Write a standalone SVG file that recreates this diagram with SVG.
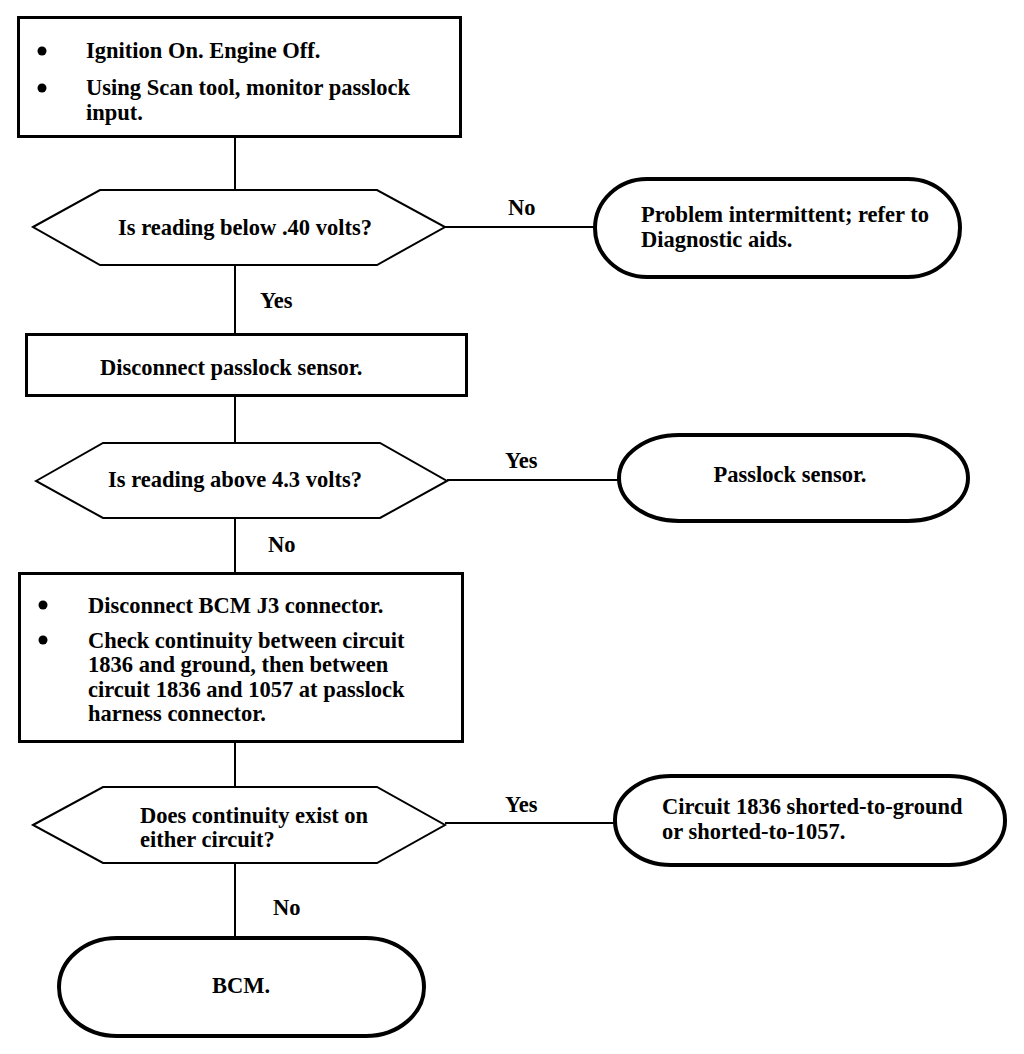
<svg xmlns="http://www.w3.org/2000/svg" width="1024" height="1054" viewBox="0 0 1024 1054">
<style>
.box{fill:#fff;stroke:#000;stroke-width:3}
.dec{fill:#fff;stroke:#000;stroke-width:2}
.term{fill:#fff;stroke:#000;stroke-width:4}
.conn{stroke:#000;stroke-width:2;fill:none}
text{font-family:"Liberation Serif","Times New Roman",serif;font-weight:bold;font-size:22.5px;fill:#000}
.bul{fill:#000}
</style>
<rect width="1024" height="1054" fill="#fff"/>
<g id="connectors">
<line class="conn" x1="235" y1="138" x2="235" y2="190"/>
<line class="conn" x1="235" y1="265" x2="235" y2="333"/>
<line class="conn" x1="235" y1="397" x2="235" y2="443"/>
<line class="conn" x1="235" y1="518" x2="235" y2="572"/>
<line class="conn" x1="235" y1="743" x2="235" y2="787"/>
<line class="conn" x1="235" y1="863" x2="235" y2="936"/>
<line class="conn" x1="445" y1="227" x2="594" y2="227"/>
<line class="conn" x1="447" y1="480" x2="618" y2="480"/>
<line class="conn" x1="445" y1="823" x2="614" y2="823"/>
<text x="508" y="215">No</text>
<text x="260" y="308">Yes</text>
<text x="505" y="468">Yes</text>
<text x="268" y="552">No</text>
<text x="505" y="812">Yes</text>
<text x="273" y="915">No</text>
</g>
<g id="step1">
<rect class="box" x="18.5" y="17.5" width="442" height="119"/>
<circle class="bul" cx="42" cy="51" r="4.5"/>
<circle class="bul" cx="42" cy="88" r="4.5"/>
<text x="86" y="58">Ignition On. Engine Off.</text>
<text x="86" y="95">Using Scan tool, monitor passlock</text>
<text x="86" y="120">input.</text>
</g>
<g id="decision1">
<polygon class="dec" points="33,227 100,190 377,190 445,227 377,265 100,265"/>
<text x="118" y="235">Is reading below .40 volts?</text>
</g>
<g id="result1">
<rect class="term" x="595" y="179" width="365" height="98" rx="52" ry="49"/>
<text x="641" y="222">Problem intermittent; refer to</text>
<text x="641" y="247">Diagnostic aids.</text>
</g>
<g id="step2">
<rect class="box" x="26.5" y="334.5" width="440" height="61"/>
<text x="100" y="375">Disconnect passlock sensor.</text>
</g>
<g id="decision2">
<polygon class="dec" points="36,481 103,443 380,443 447,481 380,518 103,518"/>
<text x="108" y="487">Is reading above 4.3 volts?</text>
</g>
<g id="result2">
<rect class="term" x="619" y="435" width="349" height="86" rx="60" ry="43"/>
<text x="790" y="482" text-anchor="middle">Passlock sensor.</text>
</g>
<g id="step3">
<rect class="box" x="19.5" y="573.5" width="443" height="168"/>
<circle class="bul" cx="43" cy="605" r="4.5"/>
<circle class="bul" cx="43" cy="640" r="4.5"/>
<text x="88" y="613">Disconnect BCM J3 connector.</text>
<text x="88" y="648">Check continuity between circuit</text>
<text x="88" y="672">1836 and ground, then between</text>
<text x="88" y="697">circuit 1836 and 1057 at passlock</text>
<text x="88" y="721">harness connector.</text>
</g>
<g id="decision3">
<polygon class="dec" points="33,825 103,787 377,787 445,825 377,863 103,863"/>
<text x="140" y="823">Does continuity exist on</text>
<text x="140" y="847">either circuit?</text>
</g>
<g id="result3">
<rect class="term" x="615" y="776" width="390" height="89" rx="56" ry="44"/>
<text x="662" y="814">Circuit 1836 shorted-to-ground</text>
<text x="662" y="839">or shorted-to-1057.</text>
</g>
<g id="result4">
<rect class="term" x="59" y="938" width="365" height="98" rx="58" ry="49"/>
<text x="241" y="993" text-anchor="middle">BCM.</text>
</g>
</svg>
